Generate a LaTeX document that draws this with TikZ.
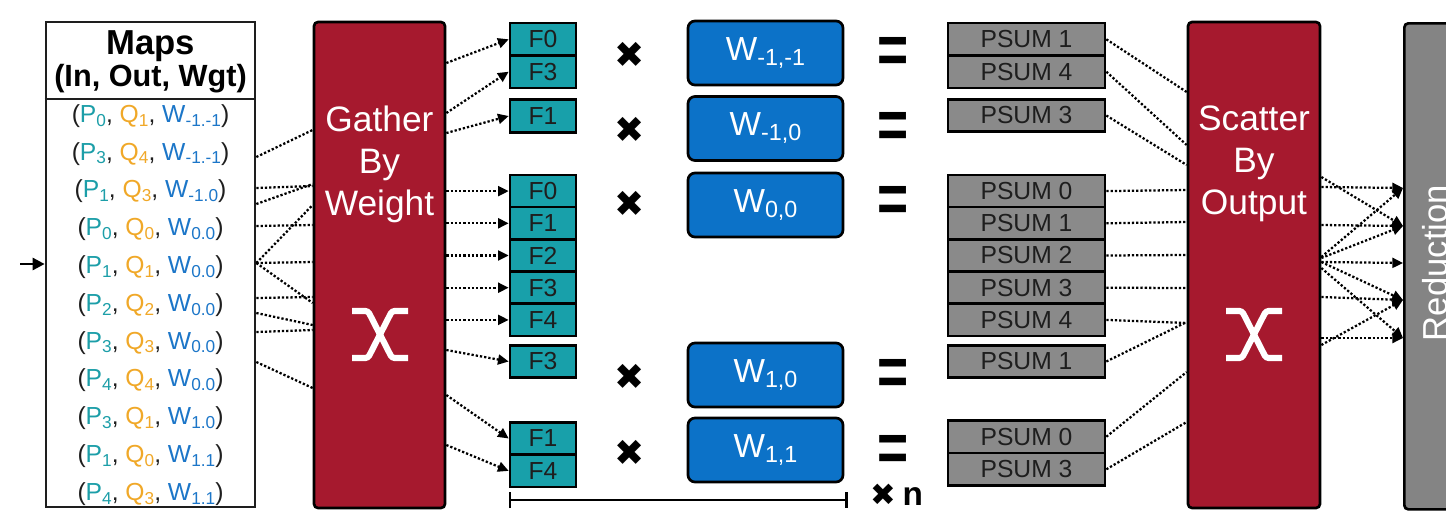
\documentclass[tikz,border=0pt]{standalone}
\usepackage{fontspec}
\setmainfont{Liberation Sans}
\newfontfamily\symf{DejaVu Sans}
\usetikzlibrary{arrows.meta,calc}

\definecolor{gred}{RGB}{166,25,46}
\definecolor{fteal}{RGB}{24,160,170}
\definecolor{wblue}{RGB}{12,114,200}
\definecolor{pgray}{RGB}{138,138,138}
\definecolor{rgray}{RGB}{132,132,132}
\definecolor{pcol}{RGB}{28,158,168}
\definecolor{qcol}{RGB}{240,168,40}
\definecolor{wcol}{RGB}{28,118,200}
\definecolor{ink}{RGB}{30,30,30}

\newdimen\px \px=0.75pt
\newcommand\fsz[1]{\fontsize{#1}{#1}\selectfont}
\newcommand\sbx[1]{\raisebox{-0.15em}{\scalebox{0.7}{#1}}}
\newcommand\entry[3]{(\textcolor{pcol}{P\sbx{#1}}, \textcolor{qcol}{Q\sbx{#2}}, \textcolor{wcol}{W\sbx{#3}})}

\tikzset{
  cell/.style={draw=black, line width=2pt, inner sep=0pt, font=\fsz{18.5}},
  fcell/.style={cell, fill=fteal, text=ink, minimum width=66\px, minimum height=32.4\px},
  pcell/.style={cell, fill=pgray, text=ink, minimum width=157\px, minimum height=32.4\px},
  wbox/.style={draw=black, line width=2pt, rounded corners=7\px, fill=wblue, text=white,
    inner sep=0pt, minimum width=155\px, minimum height=64\px, font=\fsz{25}},
  stage/.style={draw=black, line width=2pt, rounded corners=4\px, fill=gred,
    minimum width=131\px, minimum height=486\px, inner sep=0pt},
  stagetxt/.style={text=white, align=center, inner sep=0pt, font=\fontsize{26.5}{31.5}\selectfont},
  link/.style={line width=1.7pt, dash pattern=on 1.7pt off 1.5pt},
  flow/.style={link, -{Triangle[length=8pt,width=7.5pt]}},
  xsym/.style={white, line width=4.6pt, rounded corners=2pt},
  mulop/.style={inner sep=0pt, font=\symf\fsz{27}},
  eqop/.style={inner sep=0pt, font=\bfseries\fsz{40}},
  rowtxt/.style={inner sep=0pt, text=ink, font=\fsz{18.5}},
  xmark/.pic={
    \draw[xsym] (-28,-23.5) -- (-12,-23.5) -- (12,23.5) -- (28,23.5);
    \draw[xsym] (28,-23.5) -- (12,-23.5) -- (-12,23.5) -- (-28,23.5);
  },
}

\begin{document}
\begin{tikzpicture}[x=0.75pt, y=-0.75pt]
\clip (0,0) rectangle (1446,511);

% ---------- map table ----------
\node[draw=ink, line width=2pt, minimum width=209\px, minimum height=485\px, inner sep=0pt] (tbl) at (150.5,264.5) {};
\node[inner sep=0pt, font=\bfseries\fsz{26}] (mh1) at (150.5,46) {Maps};
\node[inner sep=0pt, font=\bfseries\fsz{23}] (mh2) at (150.5,79) {(In, Out, Wgt)};
\draw[line width=2pt, ink] (tbl.west |- 0,99) -- (tbl.east |- 0,99);

\node[rowtxt] (r1)  at (150.5,116.0) {\entry{0}{1}{-1.-1}};
\node[rowtxt] (r2)  at (150.5,153.8) {\entry{3}{4}{-1.-1}};
\node[rowtxt] (r3)  at (150.5,191.6) {\entry{1}{3}{-1.0}};
\node[rowtxt] (r4)  at (150.5,229.4) {\entry{0}{0}{0.0}};
\node[rowtxt] (r5)  at (150.5,267.2) {\entry{1}{1}{0.0}};
\node[rowtxt] (r6)  at (150.5,305.0) {\entry{2}{2}{0.0}};
\node[rowtxt] (r7)  at (150.5,342.8) {\entry{3}{3}{0.0}};
\node[rowtxt] (r8)  at (150.5,380.6) {\entry{4}{4}{0.0}};
\node[rowtxt] (r9)  at (150.5,418.4) {\entry{3}{1}{1.0}};
\node[rowtxt] (r10) at (150.5,456.2) {\entry{1}{0}{1.1}};
\node[rowtxt] (r11) at (150.5,494.0) {\entry{4}{3}{1.1}};

\coordinate (in) at (20,264);
\draw[line width=2pt, -{Triangle[length=9pt,width=9pt]}] (in) -- (tbl.west |- in);

% ---------- gather stage ----------
\node[stage] (gw) at (379.5,265) {};
\node[stagetxt] (gwt) at (379.5,164) {Gather\\By\\Weight};
\pic at (380,334.5) {xmark};

% ---------- feature cells ----------
\node[fcell] (fa0) at (543,39.3)  {F0};
\node[fcell] (fa3) at (543,71.7)  {F3};
\node[fcell] (fb1) at (543,116)   {F1};
\node[fcell] (fc0) at (543,191.1) {F0};
\node[fcell] (fc1) at (543,223.3) {F1};
\node[fcell] (fc2) at (543,255.5) {F2};
\node[fcell] (fc3) at (543,287.7) {F3};
\node[fcell] (fc4) at (543,319.9) {F4};
\node[fcell] (fd3) at (543,361.5) {F3};
\node[fcell] (fe1) at (543,438.5) {F1};
\node[fcell] (fe4) at (543,470.9) {F4};

% ---------- weights ----------
\node[mulop] (m1) at (630,55)  {✖};
\node[mulop] (m2) at (630,130) {✖};
\node[mulop] (m3) at (630,204) {✖};
\node[mulop] (m4) at (630,377) {✖};
\node[mulop] (m5) at (630,453) {✖};

\node[wbox] (w1) at (765.5,53)  {W\sbx{-1,-1}};
\node[wbox] (w2) at (765.5,128.5) {W\sbx{-1,0}};
\node[wbox] (w3) at (765.5,205) {W\sbx{0,0}};
\node[wbox] (w4) at (765.5,375) {W\sbx{1,0}};
\node[wbox] (w5) at (765.5,450) {W\sbx{1,1}};

\node[eqop] (e1) at (893,55)  {\scalebox{1}[1.3]{=}};
\node[eqop] (e2) at (893,130) {\scalebox{1}[1.3]{=}};
\node[eqop] (e3) at (893,204) {\scalebox{1}[1.3]{=}};
\node[eqop] (e4) at (893,377) {\scalebox{1}[1.3]{=}};
\node[eqop] (e5) at (893,453) {\scalebox{1}[1.3]{=}};

% ---------- partial sums ----------
\node[pcell] (pa1) at (1026.5,39.3)  {PSUM 1};
\node[pcell] (pa4) at (1026.5,71.7)  {PSUM 4};
\node[pcell] (pb3) at (1026.5,115.5) {PSUM 3};
\node[pcell] (pc0) at (1026.5,191.1) {PSUM 0};
\node[pcell] (pc1) at (1026.5,223.3) {PSUM 1};
\node[pcell] (pc2) at (1026.5,255.5) {PSUM 2};
\node[pcell] (pc3) at (1026.5,287.7) {PSUM 3};
\node[pcell] (pc4) at (1026.5,319.9) {PSUM 4};
\node[pcell] (pd1) at (1026.5,361.5) {PSUM 1};
\node[pcell] (pe0) at (1026.5,436.7) {PSUM 0};
\node[pcell] (pe3) at (1026.5,469.3) {PSUM 3};

% ---------- scatter stage ----------
\node[stage, minimum width=132\px] (sc) at (1254,265) {};
\node[stagetxt] (sct) at (1254,164) {Scatter\\By\\Output};
\pic at (1254,334.5) {xmark};

% ---------- reduction ----------
\node[draw=black, line width=2pt, rounded corners=4\px, fill=rgray, minimum width=90\px,
      minimum height=486\px, inner sep=0pt, anchor=north west] (red) at (1403,22) {};
\node[rotate=90, text=white, inner sep=0pt, font=\fsz{26}] (redt) at (1435,263) {Reduction};
\coordinate (q0) at (red.west |- 0,188);
\coordinate (q1) at (red.west |- 0,226);
\coordinate (q2) at (red.west |- 0,263);
\coordinate (q3) at (red.west |- 0,300);
\coordinate (q4) at (red.west |- 0,338);

% ---------- table -> gather ----------
\draw[link] (tbl.east |- 0,157) -- (gw.west |- 0,130);
\draw[link] (tbl.east |- 0,188) -- (gw.west |- 0,186);
\draw[link] (tbl.east |- 0,204) -- (gw.west |- 0,184);
\draw[link] (tbl.east |- 0,226) -- (gw.west |- 0,225);
\draw[link] (tbl.east |- 0,263) -- (gw.west |- 0,205);
\draw[link] (tbl.east |- 0,263) -- (gw.west |- 0,262);
\draw[link] (tbl.east |- 0,263) -- (gw.west |- 0,303);
\draw[link] (tbl.east |- 0,298) -- (gw.west |- 0,297);
\draw[link] (tbl.east |- 0,313) -- (gw.west |- 0,325);
\draw[link] (tbl.east |- 0,332) -- (gw.west |- 0,330);
\draw[link] (tbl.east |- 0,362) -- (gw.west |- 0,388);

% ---------- gather -> features ----------
\draw[flow] (gw.east |- 0,63)  -- (fa0.west);
\draw[flow] (gw.east |- 0,113) -- (fa3.west);
\draw[flow] (gw.east |- 0,133) -- (fb1.west);
\draw[flow] (gw.east |- fc0)   -- (fc0.west);
\draw[flow] (gw.east |- fc1)   -- (fc1.west);
\draw[flow] (gw.east |- fc2)   -- (fc2.west);
\draw[flow] (gw.east |- fc3)   -- (fc3.west);
\draw[flow] (gw.east |- fc4)   -- (fc4.west);
\draw[flow] (gw.east |- 0,350) -- (fd3.west);
\draw[flow] (gw.east |- 0,395) -- (fe1.west);
\draw[flow] (gw.east |- 0,445) -- (fe4.west);

% ---------- partial sums -> scatter ----------
\draw[link] (pa1.east) -- (sc.west |- 0,92);
\draw[link] (pa4.east) -- (sc.west |- 0,145);
\draw[link] (pb3.east) -- (sc.west |- 0,165);
\draw[link] (pc0.east) -- (sc.west |- 0,190);
\draw[link] (pc1.east) -- (sc.west |- 0,222);
\draw[link] (pc2.east) -- (sc.west |- 0,255);
\draw[link] (pc3.east) -- (sc.west |- 0,288);
\draw[link] (pc4.east) -- (sc.west |- 0,323);
\draw[link] (pd1.east) -- (sc.west |- 0,322);
\draw[link] (pe0.east) -- (sc.west |- 0,372);
\draw[link] (pe3.east) -- (sc.west |- 0,422);

% ---------- scatter -> reduction ----------
\draw[flow] (sc.east |- 0,187) -- (q0);
\draw[flow] (sc.east |- 0,257) -- (q0);
\draw[flow] (sc.east |- 0,177) -- (q1);
\draw[flow] (sc.east |- 0,225) -- (q1);
\draw[flow] (sc.east |- 0,258) -- (q1);
\draw[flow] (sc.east |- 0,262) -- (q2);
\draw[flow] (sc.east |- 0,262) -- (q3);
\draw[flow] (sc.east |- 0,297) -- (q3);
\draw[flow] (sc.east |- 0,345) -- (q3);
\draw[flow] (sc.east |- 0,268) -- (q4);
\draw[flow] (sc.east |- 0,338) -- (q4);

% ---------- repetition bracket ----------
\coordinate (bl) at (fe4.west |- 0,500);
\coordinate (br) at (848,500);
\draw[line width=2pt, {Bar[width=12pt]}-{Bar[width=12pt]}] (bl) -- (br);
\node[anchor=base west, inner sep=0pt] (xn) at (870,505) {{\symf\fsz{23}✖}\hspace{5pt}{\bfseries\fsz{25}n}};
\end{tikzpicture}
\end{document}
